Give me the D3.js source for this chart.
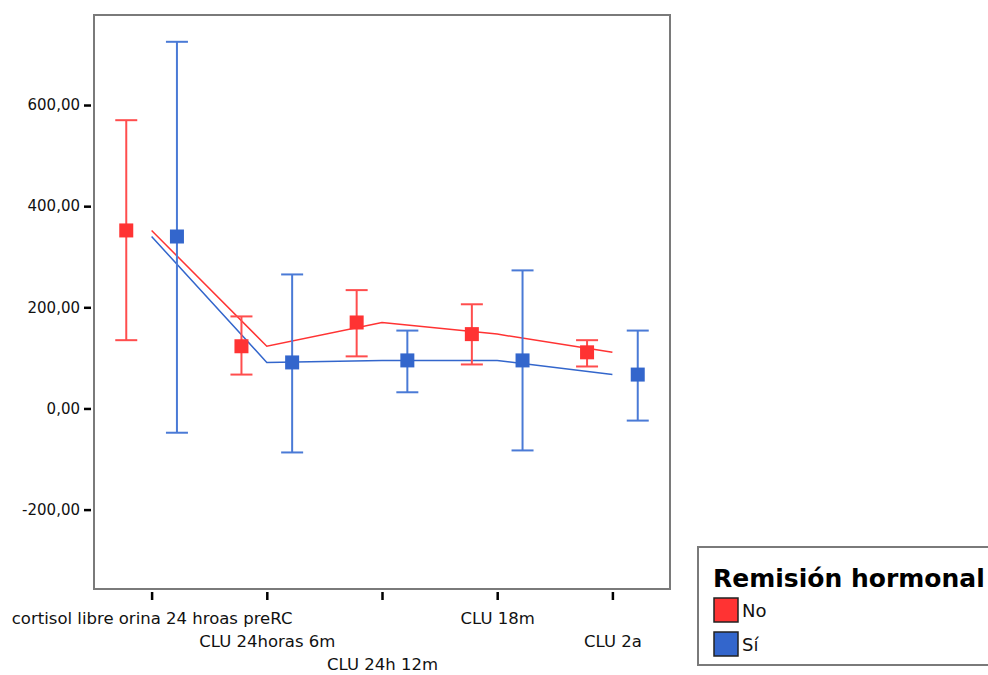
<!DOCTYPE html>
<html>
<head>
<meta charset="utf-8">
<script src="https://cdn.jsdelivr.net/npm/d3@7"></script>
<style>
  html, body { margin: 0; padding: 0; background: #fff; }
  svg { display: block; font-family: "DejaVu Sans", Verdana, sans-serif; }
</style>
</head>
<body>
<svg id="chart" width="988" height="675"></svg>
<script>
// Urinary free cortisol (CLU) over follow-up, by hormonal remission group
const categories = ["cortisol libre orina 24 hroas preRC", "CLU 24horas 6m", "CLU 24h 12m", "CLU 18m", "CLU 2a"];
const groups = ["No", "Sí"];
const meanNo = [352, 123, 170, 147, 111];
const lowNo  = [135, 67, 103, 87, 83];
const highNo = [570, 182, 234, 206, 135];
const meanSi = [340, 91, 95, 95, 67];
const lowSi  = [-48, -87, 32, -83, -24];
const highSi = [725, 265, 154, 273, 154];
const yTicks = [-200, 0, 200, 400, 600];

const colors = { "No": "#ff3333", "Sí": "#3366cc" };
const barColors = { "No": "#ff4d4d", "Sí": "#4a7ad6" };

const svg = d3.select("#chart");
const plot = { left: 94, right: 670, top: 15, bottom: 589 };

const x = d3.scalePoint().domain(categories).range([plot.left, plot.right]).padding(0.5);
const y = d3.scaleLinear().domain([-357, 778]).range([plot.bottom, plot.top]);
const offset = { "No": -0.22 * x.step(), "Sí": 0.22 * x.step() };

const series = [
  { key: "No", mean: meanNo, low: lowNo, high: highNo },
  { key: "Sí", mean: meanSi, low: lowSi, high: highSi }
];

// plot frame
svg.append("rect")
  .attr("x", plot.left).attr("y", plot.top)
  .attr("width", plot.right - plot.left).attr("height", plot.bottom - plot.top)
  .attr("fill", "#fff").attr("stroke", "#7a7a7a").attr("stroke-width", 2);

// y axis (comma decimals, plain hyphen for negatives)
const yAxis = d3.axisLeft(y).tickValues(yTicks).tickSize(7).tickPadding(4)
  .tickFormat(d => d3.format(".2f")(d).replace(".", ",").replace("\u2212", "-"));
const gy = svg.append("g").attr("transform", `translate(${plot.left - 3},0)`).call(yAxis);
gy.select(".domain").remove();
gy.selectAll(".tick line").attr("stroke", "#000").attr("stroke-width", 2.5);
gy.selectAll(".tick text").attr("font-size", 15).attr("fill", "#111").attr("font-family", "DejaVu Sans");

// x axis with staggered labels
const xAxis = d3.axisBottom(x).tickSize(8).tickFormat("");
const gx = svg.append("g").attr("transform", `translate(0,${plot.bottom + 3})`).call(xAxis);
gx.select(".domain").remove();
gx.selectAll(".tick line").attr("stroke", "#000").attr("stroke-width", 2.5);
gx.selectAll(".tick").append("text")
  .attr("text-anchor", "middle")
  .attr("fill", "#111")
  .attr("font-size", 16.5)
  .attr("font-family", "DejaVu Sans")
  .attr("y", (d, i) => 32 + (i % 3) * 23)
  .text(d => d);

// lines joining group means at category centres
const line = d3.line().x((d, i) => x(categories[i])).y(d => y(d));
series.forEach(s => {
  svg.append("path")
    .attr("d", line(s.mean))
    .attr("fill", "none")
    .attr("stroke", colors[s.key])
    .attr("stroke-width", 1.5);
});

// error bars and mean markers
const cap = 11, sq = 14;
series.forEach(s => {
  const g = svg.append("g");
  categories.forEach((c, i) => {
    const cx = x(c) + offset[s.key];
    g.append("line").attr("x1", cx).attr("x2", cx)
      .attr("y1", y(s.low[i])).attr("y2", y(s.high[i]))
      .attr("stroke", barColors[s.key]).attr("stroke-width", 2);
    [s.low[i], s.high[i]].forEach(v => {
      g.append("line").attr("x1", cx - cap).attr("x2", cx + cap)
        .attr("y1", y(v)).attr("y2", y(v))
        .attr("stroke", barColors[s.key]).attr("stroke-width", 2);
    });
    g.append("rect")
      .attr("x", cx - sq / 2).attr("y", y(s.mean[i]) - sq / 2)
      .attr("width", sq).attr("height", sq)
      .attr("fill", colors[s.key]);
  });
});

// legend
const lg = svg.append("g");
lg.append("rect").attr("x", 698).attr("y", 547).attr("width", 300).attr("height", 118)
  .attr("fill", "#fff").attr("stroke", "#7a7a7a").attr("stroke-width", 2);
lg.append("text").attr("x", 713).attr("y", 587)
  .attr("font-size", 25).attr("font-weight", "bold").attr("fill", "#000")
  .text("Remisión hormonal");
groups.forEach((gname, i) => {
  const yy = 598 + i * 34;
  lg.append("rect").attr("x", 714).attr("y", yy).attr("width", 24).attr("height", 24)
    .attr("fill", colors[gname]).attr("stroke", "#222").attr("stroke-width", 1.5);
  lg.append("text").attr("x", 742).attr("y", yy + 19)
    .attr("font-size", 18).attr("fill", "#111").text(gname);
});
</script>
</body>
</html>
